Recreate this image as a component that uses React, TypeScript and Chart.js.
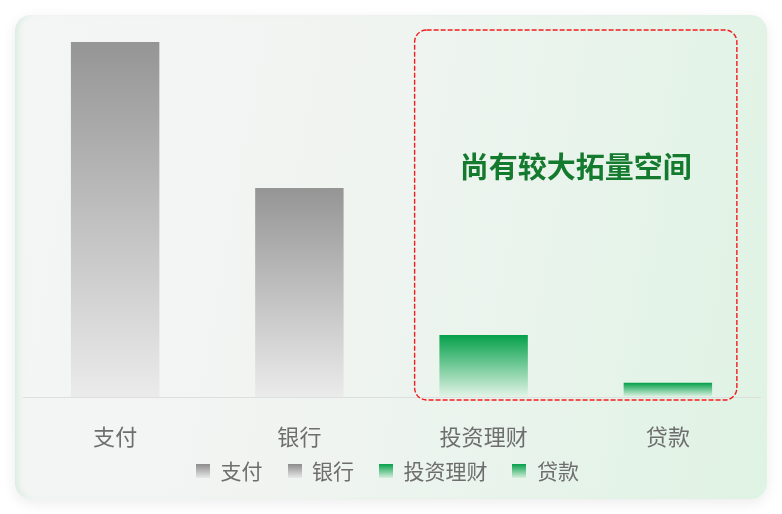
import { useEffect, useRef } from "react"
import { Chart, registerables } from "chart.js"
import type { ScriptableContext, Plugin } from "chart.js"

Chart.register(...registerables)

// 数据
const categories = ["支付", "银行", "投资理财", "贷款"]
const values = [95.4, 56.2, 16.7, 3.8]
const tones = ["gray", "gray", "green", "green"]
const calloutText = "尚有较大拓量空间"
const calloutFrom = 2
const calloutTo = 3

const barStops: Record<string, [string, string]> = {
  gray: ["#959595", "#ebebeb"],
  green: ["#04a04a", "#e3f4e7"],
}

const legendStops: Record<string, [string, string]> = {
  gray: ["#8c8c8c", "#e8e8e8"],
  green: ["#06a04a", "#d6efdc"],
}

const FONT = "'Noto Sans CJK SC', 'Noto Sans', sans-serif"

function legendSwatch(tone: string) {
  const c = document.createElement("canvas")
  c.width = 14
  c.height = 14
  const g2 = c.getContext("2d")
  if (g2) {
    const g = g2.createLinearGradient(0, 0, 0, 14)
    g.addColorStop(0, legendStops[tone][0])
    g.addColorStop(1, legendStops[tone][1])
    g2.fillStyle = g
    g2.fillRect(0, 0, 14, 14)
  }
  return c
}

const barFill = (context: ScriptableContext<"bar">) => {
  const { chart, dataIndex } = context
  const stops = barStops[tones[dataIndex]]
  if (!chart.chartArea) return stops[0]
  const y = chart.scales.y
  const top = y.getPixelForValue(values[dataIndex])
  const bottom = y.getPixelForValue(0)
  const g = chart.ctx.createLinearGradient(0, top, 0, bottom)
  g.addColorStop(0, stops[0])
  g.addColorStop(1, stops[1])
  return g
}

// 图例上移，贴近 x 轴标签
const legendNudge: Plugin<"bar"> = {
  id: "legendNudge",
  afterLayout(chart) {
    const lg = chart.legend
    if (!lg) return
    lg.top -= 12.5
    lg.bottom -= 12.5
    lg.left -= 4
    lg.right -= 4
  },
}

// 虚线框 + 提示文字
const calloutPlugin: Plugin<"bar"> = {
  id: "callout",
  afterDatasetsDraw(chart) {
    const { ctx, chartArea, scales } = chart
    const left = scales.x.getPixelForValue(calloutFrom) - 69
    const right = scales.x.getPixelForValue(calloutTo) + 69
    const top = chartArea.top + 5
    const bottom = chartArea.bottom + 3
    ctx.save()
    ctx.setLineDash([5, 2])
    ctx.lineWidth = 1.4
    ctx.strokeStyle = "#f21c1c"
    ctx.beginPath()
    ctx.roundRect(left, top, right - left, bottom - top, 12)
    ctx.stroke()
    ctx.setLineDash([])
    ctx.font = `bold 29px ${FONT}`
    ctx.fillStyle = "#137a2e"
    ctx.textAlign = "center"
    ctx.textBaseline = "middle"
    ctx.fillText(calloutText, (left + right) / 2, top + (bottom - top) * 0.37)
    ctx.restore()
  },
}

function BarChart() {
  const chartRef = useRef<HTMLCanvasElement>(null)
  const chartInstance = useRef<Chart | null>(null)

  useEffect(() => {
    if (!chartRef.current) return
    if (chartInstance.current) chartInstance.current.destroy()

    const swatches = tones.map(legendSwatch)

    chartInstance.current = new Chart(chartRef.current, {
      type: "bar",
      data: {
        labels: categories,
        datasets: [
          {
            data: values,
            backgroundColor: barFill,
            borderWidth: 0,
            barPercentage: 0.8,
            categoryPercentage: 0.6,
          },
        ],
      },
      options: {
        responsive: true,
        maintainAspectRatio: false,
        animation: false,
        layout: { padding: { left: 8, right: 7, top: 10, bottom: -5 } },
        font: { family: FONT },
        scales: {
          x: {
            grid: { display: false, drawTicks: false },
            border: { display: true, color: "#dedede", width: 1 },
            ticks: { padding: 26, color: "#6e6e6e", font: { size: 22, family: FONT } },
            afterFit: (scale) => {
              scale.height = 51
            },
          },
          y: { display: false, min: 0, max: 100 },
        },
        plugins: {
          tooltip: { enabled: false },
          legend: {
            position: "bottom",
            labels: {
              usePointStyle: true,
              boxWidth: 14,
              boxHeight: 14,
              padding: 25,
              color: "#6e6e6e",
              font: { size: 21, family: FONT },
              generateLabels: () =>
                categories.map((name, i) => ({
                  text: name,
                  pointStyle: swatches[i],
                  fillStyle: legendStops[tones[i]][0],
                  strokeStyle: "transparent",
                  lineWidth: 0,
                  hidden: false,
                  index: i,
                  datasetIndex: 0,
                  fontColor: "#6e6e6e",
                })),
            },
          },
        },
      },
      plugins: [calloutPlugin, legendNudge],
    })

    return () => {
      if (chartInstance.current) {
        chartInstance.current.destroy()
        chartInstance.current = null
      }
    }
  }, [])

  return <canvas ref={chartRef} />
}

export default function App() {
  return (
    <div style={{ position: "fixed", left: 0, top: 0, width: 782, height: 514, background: "#ffffff" }}>
      <div
        style={{
          position: "absolute",
          left: 15,
          top: 15,
          width: 752,
          height: 484,
          borderRadius: 16,
          background: "linear-gradient(100deg, #f4f6f5 0%, #f0f4f1 45%, #dff3e4 100%)",
          boxShadow: "0 4px 14px rgba(0,0,0,0.08), inset 7px 0 8px -6px rgba(190,225,205,0.7)",
          overflow: "hidden",
        }}
      >
        <BarChart />
      </div>
    </div>
  )
}
